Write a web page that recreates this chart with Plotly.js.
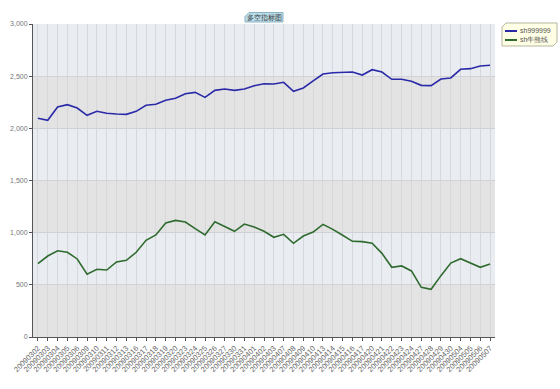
<!DOCTYPE html>
<html><head><meta charset="utf-8">
<script src="https://cdn.plot.ly/plotly-3.0.1.min.js"></script>
<style>html,body{margin:0;padding:0;background:#fff}#c{width:560px;height:389px}</style>
</head><body><div id="c"></div>
<script>
const dates = ["20090302","20090303","20090304","20090305","20090306","20090309","20090310","20090311","20090312","20090313","20090316","20090317","20090318","20090319","20090320","20090323","20090324","20090325","20090326","20090327","20090330","20090331","20090401","20090402","20090403","20090407","20090408","20090409","20090410","20090413","20090414","20090415","20090416","20090417","20090420","20090421","20090422","20090423","20090424","20090427","20090428","20090429","20090430","20090504","20090505","20090506","20090507"];
const sh999999 = [2096,2077,2204,2227,2195,2125,2163,2144,2137,2134,2163,2221,2230,2269,2288,2332,2345,2297,2364,2377,2364,2377,2409,2428,2425,2441,2355,2387,2454,2521,2533,2540,2540,2511,2562,2540,2470,2470,2451,2412,2409,2473,2483,2566,2572,2598,2604];
const shNiuXiong = [703,776,827,812,748,601,649,642,719,735,812,927,978,1093,1118,1102,1038,978,1105,1057,1013,1083,1054,1013,956,984,898,968,1006,1080,1032,975,917,914,898,802,668,681,633,476,457,588,709,751,706,668,700];
const yTicks = [0,500,1000,1500,2000,2500,3000];
const seriesNames = ["sh999999","sh牛熊线"];
const seriesColors = ['#2a2aa8','#2f6b2f'];
const chartTitle = "多空指标图";

// plot-area pixel geometry -> paper coords helpers
const W = 560, H = 389, L = 33, R = 65, T = 24, B = 52;
const pw = W - L - R, ph = H - T - B;
const px = v => (v - L) / pw;
const py = v => (H - B - v) / ph;

const shapes = [];
for (let i = 0; i < yTicks.length - 1; i++) {
  shapes.push({type:'rect', xref:'paper', yref:'y', x0:0, x1:1, y0:yTicks[i], y1:yTicks[i+1],
    fillcolor: (i % 2 === 0) ? '#e3e3e4' : '#e9ecf0', line:{width:0}, layer:'below'});
}
// custom legend box with beveled corners
const lx0 = px(502), lx1 = px(557), ly0 = py(46), ly1 = py(23);
const bx = 4 / pw, by = 4 / ph;
shapes.push({type:'path', xref:'paper', yref:'paper',
  path:`M ${lx0+bx} ${ly1} L ${lx1} ${ly1} L ${lx1} ${ly0+by} L ${lx1-bx} ${ly0} L ${lx0} ${ly0} L ${lx0} ${ly1-by} Z`,
  fillcolor:'#ffffe6', line:{color:'#b5b5a0', width:1}});
const annotations = [];
seriesNames.forEach((n, i) => {
  const yy = py(31 + i * 9);
  shapes.push({type:'line', xref:'paper', yref:'paper', x0:px(505), x1:px(517), y0:yy, y1:yy,
    line:{color:seriesColors[i], width:2}});
  annotations.push({text:n, xref:'paper', yref:'paper', x:px(518), y:yy, xanchor:'left', yanchor:'middle',
    showarrow:false, font:{size:7, color:'#555'}});
});
// title box
const tx0 = px(245), tx1 = px(283), ty0 = py(22), ty1 = py(12.5);
shapes.push({type:'path', xref:'paper', yref:'paper',
  path:`M ${tx0+bx} ${ty1} L ${tx1} ${ty1} L ${tx1} ${ty0} L ${tx0} ${ty0} L ${tx0} ${ty1-by} Z`,
  fillcolor:'#b9dbe8', line:{color:'#8cb3c3', width:1}});
annotations.push({text:chartTitle, xref:'paper', yref:'paper', x:(tx0+tx1)/2, y:(ty0+ty1)/2, xanchor:'center', yanchor:'middle',
  showarrow:false, font:{size:7, color:'#333'}});

const traces = [
  {x: dates, y: sh999999, name: seriesNames[0], type:'scatter', mode:'lines', line:{color:seriesColors[0], width:1.6}},
  {x: dates, y: shNiuXiong, name: seriesNames[1], type:'scatter', mode:'lines', line:{color:seriesColors[1], width:1.6}}
];

const layout = {
  width:W, height:H,
  margin:{l:L, r:R, t:T, b:B},
  paper_bgcolor:'#ffffff', plot_bgcolor:'rgba(0,0,0,0)',
  font:{family:'Liberation Sans, Arial, sans-serif', size:7, color:'#666'},
  showlegend:false,
  xaxis:{type:'category', range:[-0.5, dates.length-0.5], tickangle:-45, showgrid:true, gridcolor:'#d6d8dc', gridwidth:1,
    showline:true, linecolor:'#555', linewidth:1, ticks:'outside', ticklen:3, tickcolor:'#555',
    tickfont:{size:7.5, color:'#666'}, zeroline:false, fixedrange:true},
  yaxis:{range:[0,3000], tickvals:yTicks, tickformat:',d', showgrid:true, gridcolor:'#d2d2d6', gridwidth:1,
    showline:true, linecolor:'#555', linewidth:1, ticks:'outside', ticklen:3, tickcolor:'#555',
    tickfont:{size:7, color:'#777'}, zeroline:false, fixedrange:true},
  shapes: shapes,
  annotations: annotations
};
Plotly.newPlot('c', traces, layout, {displayModeBar:false, staticPlot:true});
</script></body></html>
